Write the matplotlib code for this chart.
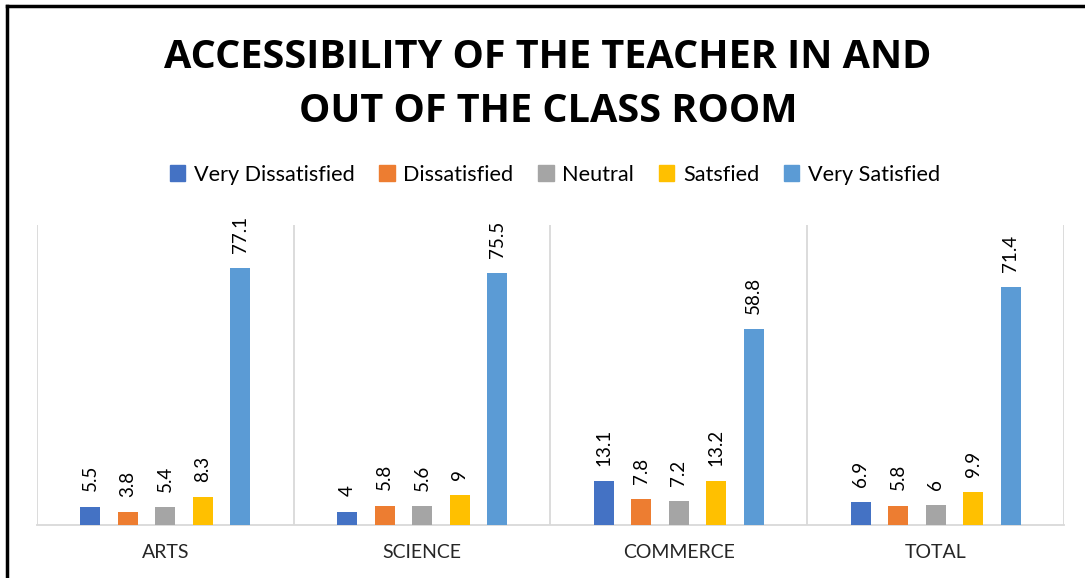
import numpy as np
import matplotlib
matplotlib.use("Agg")
import matplotlib.pyplot as plt
from matplotlib.patches import Rectangle
from matplotlib.lines import Line2D

# chart data
categories = ["ARTS", "SCIENCE", "COMMERCE", "TOTAL"]
series_names = ["Very Dissatisfied", "Dissatisfied", "Neutral", "Satsfied", "Very Satisfied"]
very_dissatisfied = [5.5, 4, 13.1, 6.9]
dissatisfied = [3.8, 5.8, 7.8, 5.8]
neutral = [5.4, 5.6, 7.2, 6]
satsfied = [8.3, 9, 13.2, 9.9]
very_satisfied = [77.1, 75.5, 58.8, 71.4]
colors = ["#4472C4", "#ED7D31", "#A5A5A5", "#FFC000", "#5B9BD5"]

title = "ACCESSIBILITY OF THE TEACHER IN AND\nOUT OF THE CLASS ROOM"

plt.rcParams['font.family'] = ['Lato', 'DejaVu Sans']

fig = plt.figure(figsize=(10.85, 5.78), dpi=100)
ax = fig.add_axes([0.0341, 0.0917, 0.9465, 0.519])

all_series = [very_dissatisfied, dissatisfied, neutral, satsfied, very_satisfied]
x = np.arange(len(categories))
step = 0.146
width = 0.078
for i, (vals, name, c) in enumerate(zip(all_series, series_names, colors)):
    pos = x + (i - 2) * step
    bars = ax.bar(pos, vals, width=width, color=c, label=name, zorder=3)
    for b, v in zip(bars, vals):
        ax.annotate(f"{v:g}", xy=(b.get_x() + b.get_width() / 2, v),
                    xytext=(0, 11), textcoords="offset points",
                    rotation=90, ha="center", va="bottom", fontsize=13.5,
                    color="#000000")

ax.set_xlim(-0.5, len(categories) - 0.5)
ax.set_ylim(0, 90)

# vertical separators between groups
for s in np.arange(-0.5, len(categories), 1.0):
    ax.axvline(s, color="#D9D9D9", lw=1.3, zorder=1)

for sp in ["top", "right", "left"]:
    ax.spines[sp].set_visible(False)
ax.spines["bottom"].set_color("#D9D9D9")
ax.spines["bottom"].set_linewidth(1.3)
ax.set_yticks([])
ax.set_xticks(x)
ax.set_xticklabels(categories, fontsize=14, color="#262626")
ax.tick_params(axis="x", length=0, pad=14)

fig.text(0.505, 0.854, title, ha="center", va="center", fontsize=28.5,
         fontweight="bold", linespacing=1.5, family=['Open Sans', 'DejaVu Sans'])

handles = [Rectangle((0, 0), 1, 1, color=c) for c in colors]
fig.legend(handles, series_names, loc="center", bbox_to_anchor=(0.5115, 0.698),
           ncol=5, frameon=False, fontsize=15.6, handlelength=0.7,
           handleheight=0.7, handletextpad=0.4, columnspacing=1.15)

# outer border (top and left visible)
fig.add_artist(Line2D([0.006, 1.0], [0.9895, 0.9895], color="black", lw=2.5,
                      transform=fig.transFigure))
fig.add_artist(Line2D([0.0065, 0.0065], [0.0, 0.9895], color="black", lw=2.5,
                      transform=fig.transFigure))

fig.savefig("out.png", dpi=100)
